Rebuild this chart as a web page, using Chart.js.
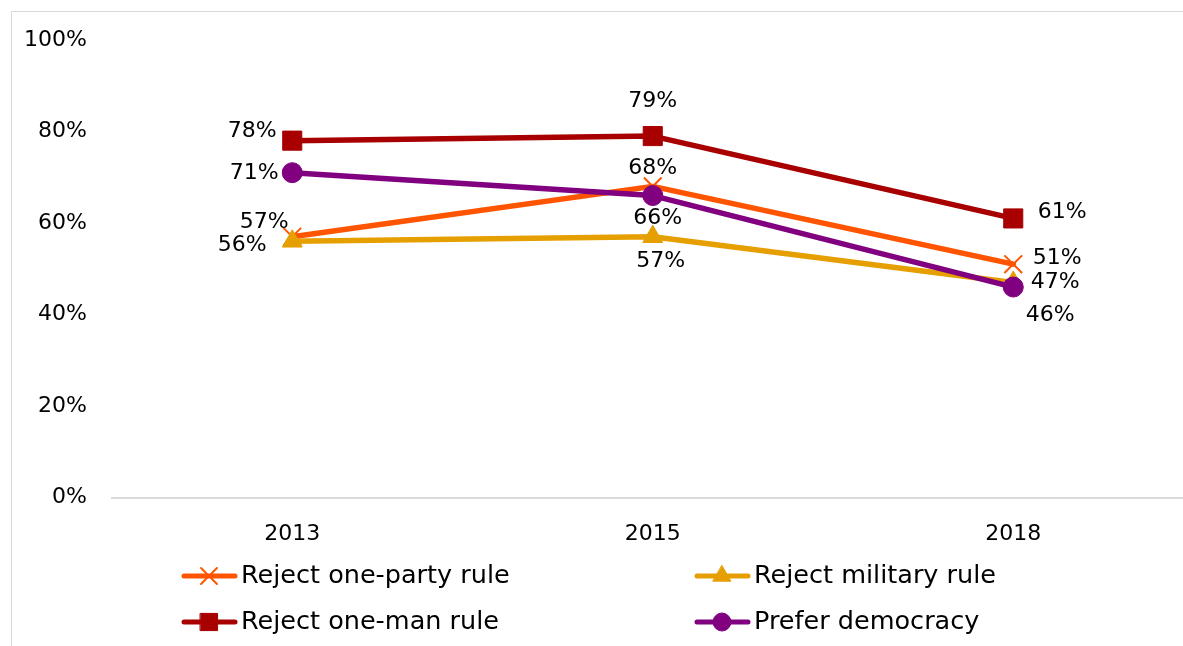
<!DOCTYPE html>
<html>
<head>
<meta charset="utf-8">
<script src="https://cdn.jsdelivr.net/npm/chart.js@4.4.1/dist/chart.umd.min.js"></script>
<style>
html, body { margin: 0; padding: 0; overflow: hidden; background: #fff; }
#frame { position: absolute; left: 11px; top: 11px; width: 1300px; height: 700px; border: 1px solid #d9d9d9; }
#wrap { position: absolute; left: 0; top: 0; width: 1208px; height: 646px; }
</style>
</head>
<body>
<div id="frame"></div>
<div id="wrap"><canvas id="chart" width="1208" height="646"></canvas></div>
<script>
const years = ["2013", "2015", "2018"];
const seriesNames = ["Reject one-party rule", "Reject military rule", "Reject one-man rule", "Prefer democracy"];
const oneParty = [57, 68, 51];
const military = [56, 57, 47];
const oneMan = [78, 79, 61];
const democracy = [71, 66, 46];

// where each value label sits, relative to its point (text centre), px
const labelOffsets = [
    [[-28, -14], [0, -18], [44, -6]],
    [[-50, 4], [8, 25], [42, 0]],
    [[-40, -9], [0, -35], [49, -6]],
    [[-38, 1], [5, 23], [37, 28]]
];

const FONT = "'DejaVu Sans', sans-serif";

function series(label, values, color, style, radius, order) {
    return {
        label: label,
        data: values,
        borderColor: color,
        backgroundColor: color,
        borderWidth: 5.5,
        borderCapStyle: "round",
        borderJoinStyle: "round",
        pointStyle: style,
        pointRadius: radius,
        pointHoverRadius: radius,
        pointBorderWidth: style == "crossRot" ? 2 : 1,
        pointBorderColor: color,
        pointBackgroundColor: color,
        tension: 0,
        order: order
    };
}

const valueLabels = {
    id: "valueLabels",
    afterDatasetsDraw(chart) {
        const ctx = chart.ctx;
        ctx.save();
        ctx.font = "22px " + FONT;
        ctx.fillStyle = "#000";
        ctx.textAlign = "center";
        ctx.textBaseline = "middle";
        chart.data.datasets.forEach((ds, i) => {
            const meta = chart.getDatasetMeta(i);
            meta.data.forEach((pt, j) => {
                const off = labelOffsets[i][j];
                ctx.fillText(ds.data[j] + "%", pt.x + off[0], pt.y + off[1]);
            });
        });
        ctx.restore();
    }
};

// two-column legend with line + marker, like the original
const lineLegend = {
    id: "lineLegend",
    afterDraw(chart) {
        const ctx = chart.ctx;
        const cols = [182, 695];
        const rows = [576, 622];
        chart.data.datasets.forEach((ds, i) => {
            const x = cols[i % 2];
            const y = rows[Math.floor(i / 2)];
            ctx.save();
            ctx.strokeStyle = ds.borderColor;
            ctx.fillStyle = ds.borderColor;
            ctx.lineWidth = 5;
            ctx.lineCap = "round";
            ctx.beginPath();
            ctx.moveTo(x + 2, y);
            ctx.lineTo(x + 53, y);
            ctx.stroke();
            ctx.lineWidth = ds.pointBorderWidth;
            Chart.helpers.drawPoint(ctx, {
                pointStyle: ds.pointStyle,
                radius: ds.pointRadius * 0.9,
                borderWidth: ds.pointBorderWidth
            }, x + 27, y);
            ctx.restore();
            ctx.save();
            ctx.font = "25.5px " + FONT;
            ctx.fillStyle = "#000";
            ctx.textAlign = "left";
            ctx.textBaseline = "middle";
            ctx.fillText(ds.label, x + 59, y);
            ctx.restore();
        });
    }
};

new Chart(document.getElementById("chart"), {
    type: "line",
    data: {
        labels: years,
        datasets: [
            series(seriesNames[0], oneParty, "#FF5500", "crossRot", 12.5, 4),
            series(seriesNames[1], military, "#E69F00", "triangle", 11.5, 3),
            series(seriesNames[2], oneMan, "#A80000", "rect", 13.5, 2),
            series(seriesNames[3], democracy, "#800080", "circle", 10, 1)
        ]
    },
    options: {
        responsive: false,
        animation: false,
        layout: { padding: { top: 40, right: 0, left: 0, bottom: 0 } },
        plugins: {
            legend: { display: false },
            tooltip: { enabled: false }
        },
        scales: {
            x: {
                offset: true,
                grid: { display: false, drawTicks: false },
                border: { display: true, color: "#d9d9d9", width: 2 },
                ticks: { color: "#000", padding: 24, font: { family: FONT, size: 22 } },
                afterFit: s => { s.height = 148.5; }
            },
            y: {
                min: 0,
                max: 100,
                grid: { display: false, drawTicks: false },
                border: { display: false },
                ticks: {
                    stepSize: 20,
                    color: "#000",
                    padding: 25,
                    font: { family: FONT, size: 22 },
                    callback: v => v + "%"
                },
                afterFit: s => { s.width = 112; }
            }
        }
    },
    plugins: [valueLabels, lineLegend]
});
</script>
</body>
</html>
